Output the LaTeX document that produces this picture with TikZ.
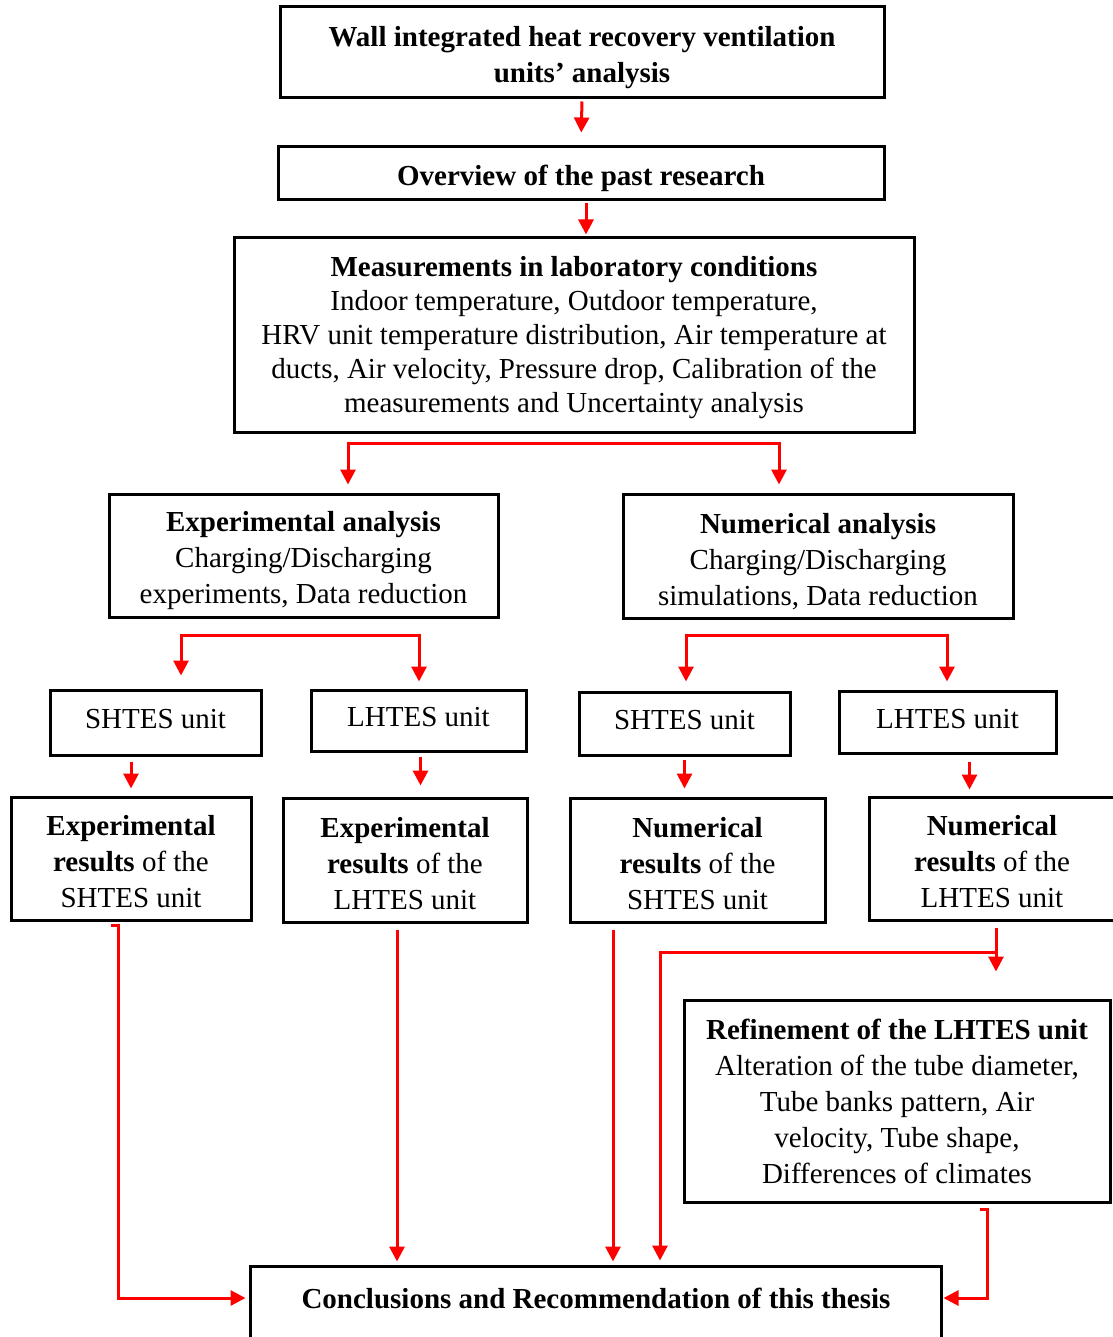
\documentclass[tikz,border=0pt]{standalone}
\usepackage{fontspec}
\setmainfont{Liberation Serif}
\usetikzlibrary{arrows.meta}

\begin{document}
\begin{tikzpicture}[x=1pt,y=-1pt,
	box/.style={draw,line width=3pt,align=center,inner sep=0pt,font=\fontsize{29}{36}\selectfont},
	redline/.style={red,line width=3pt},
	arr/.style={redline,arrows={-Triangle[length=15pt,width=15pt]}}]

	\useasboundingbox (0,0) rectangle (1112,1337);

	%---------------------
	% boxes
	%---------------------
	% top
	\node[box,minimum width=604pt,minimum height=91pt] (wall) at (582,52.5) {\rule{0pt}{30pt}\textbf{Wall integrated heat recovery ventilation}\\\textbf{units' analysis}};
	\node[box,minimum width=606pt,minimum height=53pt] (over) at (581,173.5) {\rule{0pt}{30pt}\textbf{Overview of the past research}};
	\node[box,minimum width=680pt,minimum height=194pt,font=\fontsize{29}{34}\selectfont] (meas) at (574,335) {\rule{0pt}{25pt}\textbf{Measurements in laboratory conditions}\\Indoor temperature, Outdoor temperature,\\HRV unit temperature distribution, Air temperature at\\ducts, Air velocity, Pressure drop, Calibration of the\\measurements and Uncertainty analysis};

	% analysis
	\node[box,minimum width=389pt,minimum height=123pt] (expa) at (303.5,555.5) {\rule{0pt}{31pt}\textbf{Experimental analysis}\\Charging/Discharging\\experiments, Data reduction};
	\node[box,minimum width=390pt,minimum height=124pt] (numa) at (818,556) {\rule{0pt}{31pt}\textbf{Numerical analysis}\\Charging/Discharging\\simulations, Data reduction};

	% units
	\node[box,minimum width=211pt,minimum height=65pt] (shtesA) at (155.5,722.5) {SHTES unit\rule[-7pt]{0pt}{7pt}};
	\node[box,minimum width=215pt,minimum height=61pt] (lhtesA) at (418.5,720.5) {LHTES unit\rule[-7pt]{0pt}{7pt}};
	\node[box,minimum width=211pt,minimum height=63pt] (shtesB) at (684.5,723.5) {SHTES unit\rule[-7pt]{0pt}{7pt}};
	\node[box,minimum width=217pt,minimum height=62pt] (lhtesB) at (947.5,722) {LHTES unit\rule[-7pt]{0pt}{7pt}};

	% results
	\node[box,minimum width=240pt,minimum height=123pt] (resA) at (131,858.5) {\rule{0pt}{27pt}\textbf{Experimental}\\\textbf{results} of the\\SHTES unit};
	\node[box,minimum width=244pt,minimum height=124pt] (resB) at (405,860) {\rule{0pt}{27pt}\textbf{Experimental}\\\textbf{results} of the\\LHTES unit};
	\node[box,minimum width=255pt,minimum height=124pt] (resC) at (697.5,860) {\rule{0pt}{27pt}\textbf{Numerical}\\\textbf{results} of the\\SHTES unit};
	\node[box,minimum width=246pt,minimum height=123pt] (resD) at (992,858.5) {\rule{0pt}{27pt}\textbf{Numerical}\\\textbf{results} of the\\LHTES unit};

	% refinement
	\node[box,minimum width=426pt,minimum height=202pt] (refine) at (897,1101) {\textbf{Refinement of the LHTES unit}\\Alteration of the tube diameter,\\Tube banks pattern, Air\\velocity, Tube shape,\\Differences of climates};

	% conclusions
	\node[box,draw=none,minimum width=688pt,minimum height=60pt] (concl) at (596,1298) {\textbf{Conclusions and Recommendation of this thesis}};
	\draw[line width=3pt] ([yshift=-40pt]concl.south west) |- (concl.north east) -- ([yshift=-40pt]concl.south east);

	%---------------------
	% arrows
	%---------------------
	\draw[arr,shorten <=2pt,shorten >=13pt] (wall.south) -- (over.north);
	\draw[arr,shorten <=2pt,shorten >=2pt] ([xshift=5pt]over.south) -- ([xshift=5pt]over.south |- meas.north);

	% meas split
	\coordinate (mL) at (348,443);
	\coordinate (mR) at (779,443);
	\draw[arr,shorten >=8pt] (mR) -- (mL) -- (mL |- expa.north);
	\draw[arr,shorten >=8pt] (mL) -- (mR) -- (mR |- numa.north);

	% experimental split
	\coordinate (eL) at (181,635);
	\coordinate (eR) at (419,635);
	\draw[arr,shorten >=13pt] (eR) -- (eL) -- (eL |- shtesA.north);
	\draw[arr,shorten >=7pt] (eL) -- (eR) -- (eR |- lhtesA.north);

	% numerical split
	\coordinate (nL) at (686,635);
	\coordinate (nR) at (947,635);
	\draw[arr,shorten >=9pt] (nR) -- (nL) -- (nL |- shtesB.north);
	\draw[arr,shorten >=8pt] (nL) -- (nR) -- (nR |- lhtesB.north);

	% units -> results
	\draw[arr,shorten <=5pt,shorten >=7pt] (resA.north |- shtesA.south) -- (resA.north);
	\draw[arr,shorten <=4pt,shorten >=11pt] ([xshift=2pt]lhtesA.south) -- ([xshift=2pt]lhtesA.south |- resB.north);
	\draw[arr,shorten <=3pt,shorten >=8pt] (shtesB.south) -- (shtesB.south |- resC.north);
	\draw[arr,shorten <=7pt,shorten >=6pt] ([xshift=22pt]lhtesB.south) -- ([xshift=22pt]lhtesB.south |- resD.north);

	% results -> conclusions
	\coordinate (aS) at (111,925);
	\draw[arr,shorten >=5pt] (aS) -- ++(7,0) |- (concl.west);
	\coordinate (bS) at (397,930);
	\draw[arr,shorten >=5pt] (bS) -- (bS |- concl.north);
	\coordinate (cS) at (613,930);
	\draw[arr,shorten >=5pt] (cS) -- (cS |- concl.north);

	% resD -> refinement, conclusions
	\coordinate (dS) at (996,928);
	\coordinate (dJ) at (996,952);
	\coordinate (dL) at (660,952);
	\draw[arr,shorten >=27pt] (dS) -- (dS |- refine.north);
	\draw[arr,shorten >=6pt] (dJ) -- (dL) -- (dL |- concl.north);

	% refinement -> conclusions
	\coordinate (fS) at (980,1209);
	\draw[arr,shorten >=2pt] (fS) -- ++(7,0) |- (concl.east);

\end{tikzpicture}
\end{document}
